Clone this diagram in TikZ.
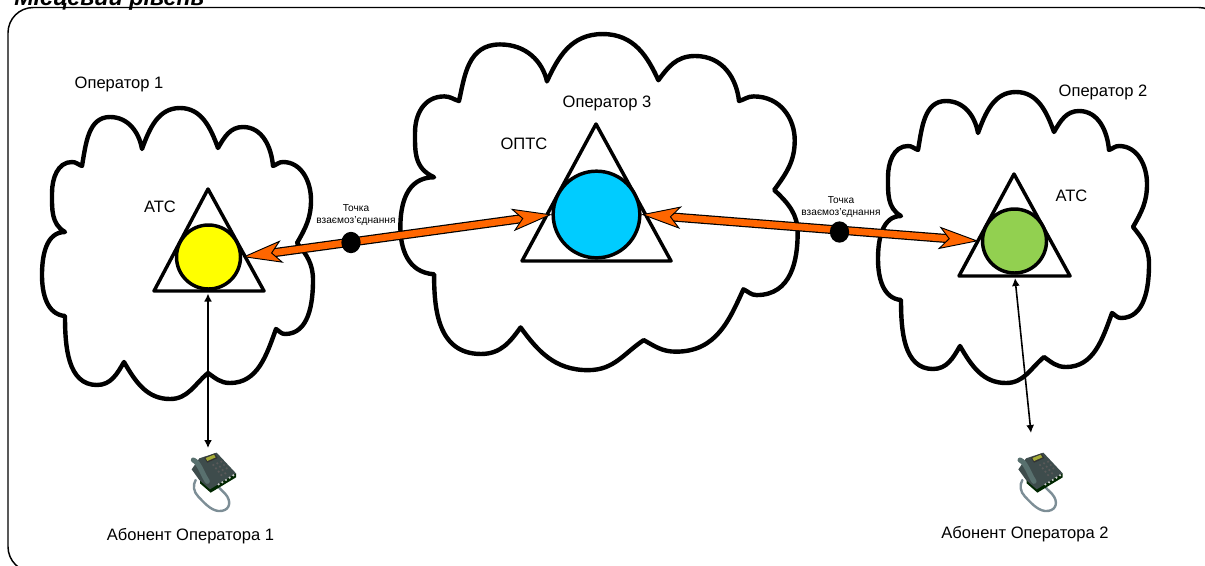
\documentclass[tikz,border=0pt]{standalone}
\usepackage{fontspec}
\setmainfont{Liberation Sans}
\usetikzlibrary{arrows.meta,shapes.geometric}
\definecolor{orng}{HTML}{FF6600}
\definecolor{skyc}{HTML}{00CCFF}
\definecolor{grnc}{HTML}{92D050}
\definecolor{yelc}{HTML}{FFFF00}
\tikzset{
  cloudline/.style={draw=black,line width=3.3pt,line join=round},
  tri/.style={draw=black,line width=2.6pt,line join=round,fill=white},
  hub/.style={circle,draw=black,line width=2.6pt,inner sep=0pt,outer sep=0pt},
  link/.style={draw=orng,line width=5pt,
    preaction={draw=black,line width=6.8pt,-,shorten <=22pt,shorten >=22pt},
    {Stealth[length=30pt,width=17pt,inset=7.5pt,fill=orng,color=black,line width=.7pt]}-{Stealth[length=30pt,width=17pt,inset=7.5pt,fill=orng,color=black,line width=.7pt]}},
  dotn/.style={ellipse,fill=black,minimum width=14.5pt,minimum height=16pt,inner sep=0pt},
  wire/.style={draw=black,line width=1.2pt,{Latex[length=6pt,width=6pt]}-{Latex[length=6pt,width=6pt]}},
  lab/.style={font=\fontsize{12.4}{14}\selectfont,anchor=base,inner sep=0pt},
  tiny/.style={font=\fontsize{7.6}{9.7}\selectfont,align=center,inner sep=0pt},
  pics/phone/.style={code={
    \begin{scope}[x=.25pt,y=-.25pt]
      \draw[line width=1.8pt,line cap=round,color={rgb,255:red,125;green,142;blue,150}]
        (137,150) .. controls (128,165) and (130,185) .. (145,200) .. controls (160,215) and (180,240) .. (205,243) .. controls (235,245) and (245,222) .. (232,200) .. controls (225,188) and (212,180) .. (205,170);
      \fill[black!85!green] (258,130) -- (258,142) -- (182,188) -- (150,160) -- (150,145) -- cycle;
      \fill[fill={rgb,255:red,62;green,76;blue,76}] (148,85) -- (200,68) -- (258,130) -- (180,178) -- (148,150) -- (125,118) -- cycle;
      \draw[line width=3.8pt,line cap=round,color={rgb,255:red,88;green,112;blue,110}] (130,90) .. controls (148,98) and (156,130) .. (172,154);
      \fill[black!80] (162,83) -- (194,70) -- (203,84) -- (172,98) -- cycle;
      \fill[fill={rgb,255:red,165;green,172;blue,55}] (167,84) -- (192,74) -- (197,82) -- (172,93) -- cycle;
      \foreach \kx/\ky in {190/105,202/100,214/95,198/115,210/110,222/105,206/125,218/120,230/115,214/135,226/130}
        \fill[black!65] (\kx,\ky) circle (.9pt);
      \foreach \kx/\ky in {206/163,217/157,228/150,239/143,250/136}
        \fill[black!18] (\kx,\ky) circle (.9pt);
    \end{scope}
  }}
}
\newcommand{\cloudshape}{
  \draw[cloudline]
    (65,232) to[out=150,in=270] (52,193) to[out=90,in=180] (72,162) to[out=0,in=160] (82,166)
    to[out=80,in=180] (110,117) to[out=0,in=100] (142,149)
    to[out=70,in=180] (180,108) to[out=0,in=110] (218,148)
    to[out=60,in=180] (243,127) to[out=0,in=95] (273,166)
    to[out=20,in=180] (283,162) to[out=0,in=90] (311,200) to[out=270,in=60] (297,243)
    to[out=-50,in=90] (313,280) to[out=270,in=0] (285,334) to[out=180,in=-30] (276,329)
    to[out=-110,in=0] (230,383) to[out=180,in=-35] (208,373)
    to[out=-140,in=0] (170,399) to[out=180,in=-60] (124,362)
    to[out=-120,in=0] (97,385) to[out=180,in=-90] (65,316)
    to[out=175,in=270] (42,275) to[out=90,in=180] (65,232) -- cycle;
}
\begin{document}
\begin{tikzpicture}[x=.75pt,y=-.75pt]
  \clip (0,0) rectangle (1205,565);
  % title and frame
  \node[font=\fontsize{17.5}{20}\selectfont\bfseries\itshape,anchor=base west,inner sep=0pt] (title) at (14,5) {Місцевий рівень};
  \draw[black,line width=1.1pt,rounded corners=19pt] (8,7.5) rectangle (1224,572);
  \draw[black!65,line width=1.6pt] (8,34) -- (8,545);
  % clouds
  \begin{scope}\cloudshape\end{scope}
  \begin{scope}[shift={(836,-16)}]\cloudshape\end{scope}
  \begin{scope}[shift={(338.8,-90.7)},xscale=1.466,yscale=1.155]\cloudshape\end{scope}
  % triangles
  \draw[tri] (208,189) -- (264,291) -- (154,291) -- cycle;
  \draw[tri] (596,124) -- (671,261) -- (522,261) -- cycle;
  \draw[tri] (1014,174) -- (1070,276) -- (959,276) -- cycle;
  % hubs
  \node[hub,fill=yelc,minimum size=48pt] (c1) at (208.5,257) {};
  \node[hub,fill=skyc,minimum size=65pt] (c3) at (596.5,214.5) {};
  \node[hub,fill=grnc,minimum size=48pt] (c2) at (1014.5,241) {};
  % links
  \draw[link] ([xshift=1.5pt]c1.east) -- ([xshift=-1pt]c3.west);
  \draw[link] ([xshift=1pt]c3.east) -- ([xshift=-3pt]c2.west);
  \node[dotn] (d1) at (351,242.5) {};
  \node[dotn] (d2) at (839.5,232) {};
  % phones
  \pic at (150,430) {phone};
  \pic at (976.7,430) {phone};
  \coordinate (b1) at (208,293.5);
  \coordinate (b2) at (1015,278);
  \coordinate (p1) at (208,448);
  \coordinate (p2) at (1031,433);
  \draw[wire] (b1) -- (p1);
  \draw[wire] (b2) -- (p2);
  % labels
  \node[lab] (t1) at (119,88) {Оператор 1};
  \node[lab] (t2) at (1103,96) {Оператор 2};
  \node[lab] (t3) at (607,107) {Оператор 3};
  \node[lab] (t4) at (160,212) {АТС};
  \node[lab] (t5) at (1071.5,201) {АТС};
  \node[lab] (t6) at (524,149) {ОПТС};
  \node[lab] (t7) at (190.5,540) {Абонент Оператора 1};
  \node[lab] (t8) at (1025,538) {Абонент Оператора 2};
  \node[tiny] (t9) at (356,215) {Точка\\взаємоз’єднання};
  \node[tiny] (t10) at (841,207) {Точка\\взаємоз’єднання};
\end{tikzpicture}
\end{document}
